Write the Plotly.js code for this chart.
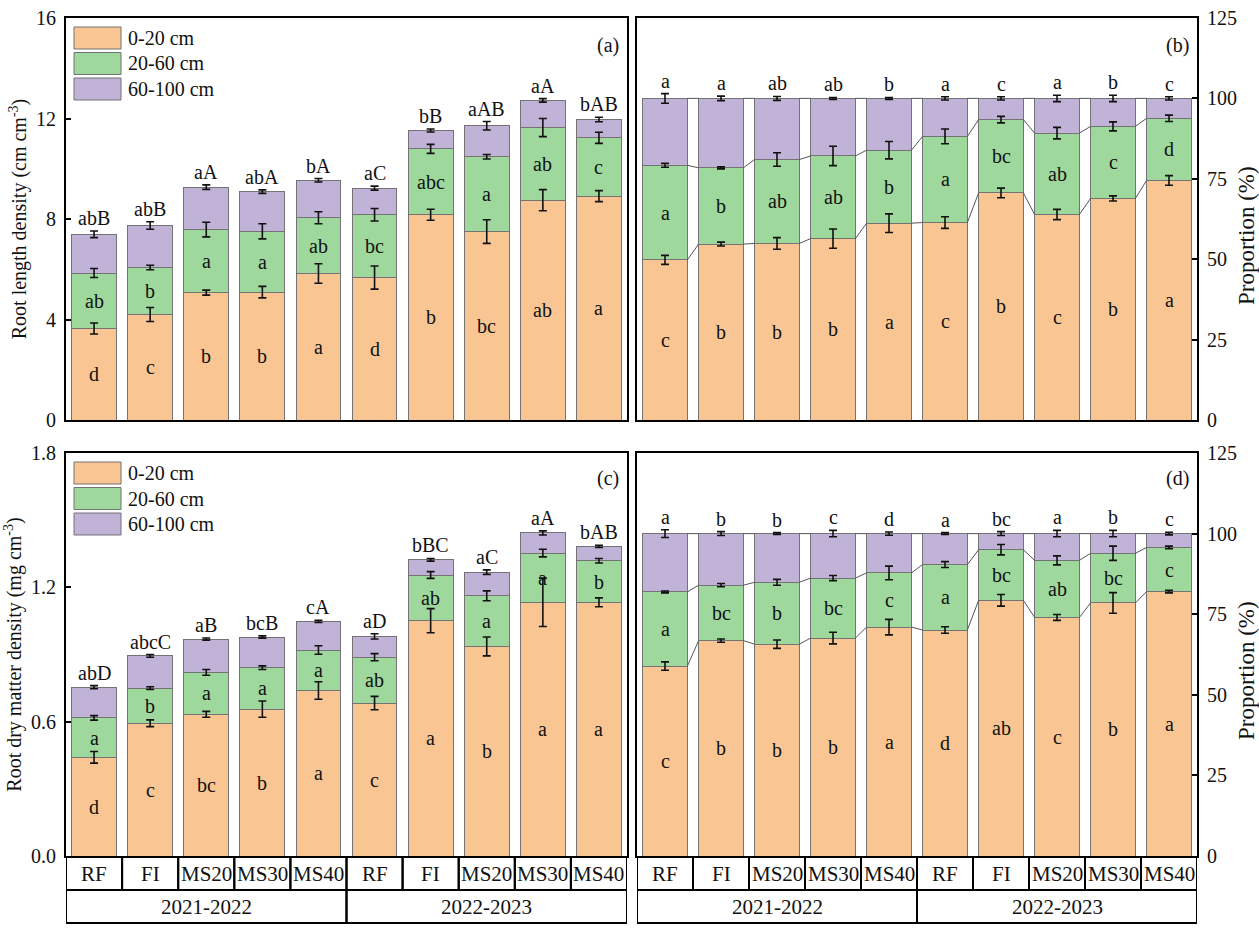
<!DOCTYPE html>
<html>
<head>
<meta charset="utf-8">
<script src="https://cdn.plot.ly/plotly-3.0.1.min.js"></script>
<style>
  html, body { margin: 0; padding: 0; background: #fff; }
  #chart { width: 1259px; height: 936px; }
</style>
</head>
<body>
<div id="chart"></div>
<script>
// ***** Data
const treatments = ['RF', 'FI', 'MS20', 'MS30', 'MS40', 'RF', 'FI', 'MS20', 'MS30', 'MS40'];
const seasons = ['2021-2022', '2022-2023'];
const layerNames = ['0-20 cm', '20-60 cm', '60-100 cm'];

// (a) root length density, cm cm-3, per soil layer
const rld020 = [3.64, 4.20, 5.07, 5.09, 5.83, 5.67, 8.17, 7.50, 8.75, 8.91];
const rld2060 = [2.21, 1.87, 2.51, 2.42, 2.22, 2.50, 2.62, 2.98, 2.89, 2.32];
const rld60100 = [1.54, 1.67, 1.69, 1.58, 1.49, 1.06, 0.73, 1.23, 1.08, 0.73];
const rldErr020 = [0.22, 0.28, 0.10, 0.23, 0.39, 0.46, 0.22, 0.47, 0.42, 0.22];
const rldErr2060 = [0.18, 0.09, 0.29, 0.30, 0.24, 0.25, 0.18, 0.09, 0.36, 0.22];
const rldErr60100 = [0.13, 0.15, 0.09, 0.07, 0.07, 0.08, 0.06, 0.17, 0.07, 0.09];
const rldLetters020 = ['d', 'c', 'b', 'b', 'a', 'd', 'b', 'bc', 'ab', 'a'];
const rldLetters2060 = ['ab', 'b', 'a', 'a', 'ab', 'bc', 'abc', 'a', 'ab', 'c'];
const rldLettersTotal = ['abB', 'abB', 'aA', 'abA', 'bA', 'aC', 'bB', 'aAB', 'aA', 'bAB'];

// (b) proportion of root length, %
const rlp020 = [49.8, 54.7, 54.9, 56.4, 61.2, 61.4, 70.6, 63.9, 68.9, 74.5];
const rlp2060 = [29.4, 23.7, 26.1, 25.7, 22.7, 26.8, 22.8, 25.3, 22.4, 19.3];
const rlp60100 = [20.8, 21.6, 19.0, 17.9, 16.1, 11.8, 6.6, 10.8, 8.7, 6.2];
const rlpErr020 = [1.4, 0.6, 1.8, 3.0, 2.9, 1.8, 1.5, 1.6, 0.8, 1.5];
const rlpErr2060 = [0.6, 0.3, 2.1, 3.0, 2.7, 2.3, 1.0, 1.8, 1.4, 1.0];
const rlpErr60100 = [1.5, 0.7, 0.6, 0.3, 0.3, 0.5, 0.5, 1.0, 1.0, 0.5];
const rlpLetters020 = ['c', 'b', 'b', 'b', 'a', 'c', 'b', 'c', 'b', 'a'];
const rlpLetters2060 = ['a', 'b', 'ab', 'ab', 'b', 'a', 'bc', 'ab', 'c', 'd'];
const rlpLetters60100 = ['a', 'a', 'ab', 'ab', 'b', 'a', 'c', 'a', 'b', 'c'];

// (c) root dry matter density, mg cm-3
const rdm020 = [0.441, 0.593, 0.633, 0.656, 0.739, 0.683, 1.051, 0.936, 1.133, 1.133];
const rdm2060 = [0.176, 0.157, 0.187, 0.185, 0.181, 0.205, 0.204, 0.226, 0.220, 0.186];
const rdm60100 = [0.137, 0.144, 0.149, 0.137, 0.128, 0.093, 0.068, 0.106, 0.090, 0.064];
const rdmErr020 = [0.026, 0.015, 0.013, 0.036, 0.039, 0.030, 0.054, 0.042, 0.108, 0.020];
const rdmErr2060 = [0.010, 0.006, 0.013, 0.008, 0.019, 0.016, 0.015, 0.022, 0.017, 0.010];
const rdmErr60100 = [0.007, 0.006, 0.005, 0.005, 0.005, 0.012, 0.006, 0.010, 0.009, 0.005];
const rdmLetters020 = ['d', 'c', 'bc', 'b', 'a', 'c', 'a', 'b', 'a', 'a'];
const rdmLetters2060 = ['a', 'b', 'a', 'a', 'a', 'ab', 'ab', 'a', 'a', 'b'];
const rdmLettersTotal = ['abD', 'abcC', 'aB', 'bcB', 'cA', 'aD', 'bBC', 'aC', 'aA', 'bAB'];

// (d) proportion of root dry matter, %
const rdp020 = [58.9, 66.8, 65.7, 67.6, 71.0, 70.1, 79.3, 74.0, 78.5, 82.0];
const rdp2060 = [23.0, 17.2, 19.2, 18.6, 16.8, 20.3, 15.7, 17.7, 15.4, 13.7];
const rdp60100 = [18.1, 16.0, 15.1, 13.8, 12.2, 9.6, 5.0, 8.3, 6.1, 4.3];
const rdpErr020 = [1.3, 0.5, 1.3, 1.8, 2.4, 1.0, 1.8, 0.9, 3.2, 0.4];
const rdpErr2060 = [0.3, 0.5, 0.9, 0.8, 2.1, 0.9, 1.6, 1.4, 2.2, 0.4];
const rdpErr60100 = [1.2, 0.6, 0.3, 1.0, 0.5, 0.3, 0.6, 1.0, 1.0, 0.4];
const rdpLetters020 = ['c', 'b', 'b', 'b', 'a', 'd', 'ab', 'c', 'b', 'a'];
const rdpLetters2060 = ['a', 'bc', 'b', 'bc', 'c', 'a', 'bc', 'ab', 'bc', 'c'];
const rdpLetters60100 = ['a', 'b', 'b', 'c', 'd', 'a', 'bc', 'a', 'b', 'c'];

// ***** Style
const colors = ['#F9C693', '#9ED89C', '#C1B3D8'];
const FONT = 'Liberation Serif, Times New Roman, serif';
const INK = '#111';
const W = 1259, H = 936;
const px = (v) => v / W;          // pixel -> paper x
const py = (v) => 1 - v / H;      // pixel -> paper y
const idx = treatments.map((t, i) => i);
const txt = (size) => ({family: FONT, size: size, color: INK});

// ***** Builders
const stackTraces = (layers, xa, ya) => layers.map((vals, k) => ({
    type: 'bar', x: idx, y: vals, xaxis: xa, yaxis: ya, width: 0.8,
    name: layerNames[k], showlegend: false, hoverinfo: 'skip',
    marker: {color: colors[k], line: {color: '#737373', width: 1}}
}));

const cumulative = (layers) => {
    const tops = [];
    let run = idx.map(() => 0);
    layers.forEach(vals => {
        run = run.map((r, i) => r + vals[i]);
        tops.push(run.slice());
    });
    return tops;
};

// error bars sit on top of every bar so the next segment does not hide them
const errorTraces = (layers, errs, xa, ya) => cumulative(layers).map((top, k) => ({
    type: 'scatter', mode: 'markers', x: idx, y: top, xaxis: xa, yaxis: ya,
    marker: {size: 1, color: 'rgba(0,0,0,0)'}, showlegend: false, hoverinfo: 'skip',
    error_y: {type: 'data', array: errs[k], color: INK, thickness: 1.6, width: 4}
}));

// thin lines joining segment tops of neighbouring bars
const connectors = (layers, xa, ya) => cumulative(layers).map(top => {
    const x = [], y = [];
    for (let i = 0; i < idx.length - 1; i++) {
        x.push(i + 0.4, i + 0.6, null);
        y.push(top[i], top[i + 1], null);
    }
    return {type: 'scatter', mode: 'lines', x, y, xaxis: xa, yaxis: ya,
        line: {color: '#555', width: 1}, showlegend: false, hoverinfo: 'skip'};
});

const letterNotes = (layers, errs, inner, topLetters, xr, yr) => {
    const notes = [];
    const tops = cumulative(layers);
    inner.forEach((letters, k) => {
        letters.forEach((s, i) => {
            const base = k === 0 ? 0 : tops[k - 1][i];
            notes.push({xref: xr, yref: yr, x: i, y: base + layers[k][i] / 2, text: s,
                xanchor: 'center', yanchor: 'middle', showarrow: false, font: txt(20)});
        });
    });
    const last = layers.length - 1;
    topLetters.forEach((s, i) => {
        notes.push({xref: xr, yref: yr, x: i, y: tops[last][i] + errs[last][i], text: s,
            xanchor: 'center', yanchor: 'bottom', showarrow: false, font: txt(20)});
    });
    return notes;
};

const paperNote = (s, x, y, size, extra) => Object.assign({xref: 'paper', yref: 'paper',
    x: px(x), y: py(y), text: s, xanchor: 'center', yanchor: 'middle',
    showarrow: false, font: txt(size)}, extra || {});

const legendBlock = (top) => {
    const shapes = [], notes = [];
    layerNames.forEach((n, k) => {
        const y0 = top + k * 25.5;
        shapes.push({type: 'rect', xref: 'paper', yref: 'paper', x0: px(74), x1: px(121),
            y0: py(y0), y1: py(y0 + 22), fillcolor: colors[k], line: {color: '#737373', width: 1}});
        notes.push(paperNote(n, 126, y0 + 11, 20, {xanchor: 'left'}));
    });
    return {shapes, notes};
};

// treatment / season boxes under the lower panels
const tableBlock = (xr) => {
    const shapes = [], notes = [];
    const lineStyle = {color: '#000', width: 2};
    const cell = (s, x, y) => ({xref: xr, yref: 'paper', x: x, y: py(y), text: s,
        xanchor: 'center', yanchor: 'middle', showarrow: false, font: txt(21)});
    treatments.forEach((t, i) => {
        shapes.push({type: 'rect', xref: xr, yref: 'paper', x0: i - 0.5, x1: i + 0.5,
            y0: py(890), y1: py(857), line: lineStyle});
        notes.push(cell(t, i, 874));
    });
    seasons.forEach((s, j) => {
        const x0 = j * 5 - 0.5;
        shapes.push({type: 'rect', xref: xr, yref: 'paper', x0: x0, x1: x0 + 5,
            y0: py(923), y1: py(890), line: lineStyle});
        notes.push(cell(s, x0 + 2.5, 907));
    });
    return {shapes, notes};
};

// ***** Axes
const frame = {showline: true, mirror: true, linecolor: '#000', linewidth: 2,
    zeroline: false, showgrid: false};
const xAxis = (dom, anchor) => Object.assign({}, frame, {domain: dom, anchor: anchor,
    range: [-0.5, 9.5], showticklabels: false, ticks: '', tickfont: txt(20)});
const yAxis = (dom, anchor, range, dtick, side, fmt, title) => Object.assign({}, frame, {
    domain: dom, anchor: anchor, range: range, tick0: 0, dtick: dtick, side: side,
    ticks: 'inside', ticklen: 5, tickwidth: 2, tickcolor: '#000', tickformat: fmt,
    tickfont: txt(20), ticklabelstandoff: 4,
    title: title ? {text: title, font: txt(20), standoff: 4} : undefined
});

const colL = [px(66), px(627)], colR = [px(637), px(1197)];
const rowT = [py(420), py(18)], rowB = [py(856), py(453)];

// ***** Assemble
const layersA = [rld020, rld2060, rld60100], errsA = [rldErr020, rldErr2060, rldErr60100];
const layersB = [rlp020, rlp2060, rlp60100], errsB = [rlpErr020, rlpErr2060, rlpErr60100];
const layersC = [rdm020, rdm2060, rdm60100], errsC = [rdmErr020, rdmErr2060, rdmErr60100];
const layersD = [rdp020, rdp2060, rdp60100], errsD = [rdpErr020, rdpErr2060, rdpErr60100];

const data = [].concat(
    stackTraces(layersA, 'x', 'y'),
    stackTraces(layersB, 'x2', 'y2'),
    stackTraces(layersC, 'x3', 'y3'),
    stackTraces(layersD, 'x4', 'y4'),
    connectors(layersB, 'x2', 'y2'), connectors(layersD, 'x4', 'y4'),
    errorTraces(layersA, errsA, 'x', 'y'), errorTraces(layersB, errsB, 'x2', 'y2'),
    errorTraces(layersC, errsC, 'x3', 'y3'), errorTraces(layersD, errsD, 'x4', 'y4')
);

const legA = legendBlock(27), legC = legendBlock(462);
const tabC = tableBlock('x3'), tabD = tableBlock('x4');

const annotations = [].concat(
    letterNotes(layersA, errsA, [rldLetters020, rldLetters2060], rldLettersTotal, 'x', 'y'),
    letterNotes(layersB, errsB, [rlpLetters020, rlpLetters2060], rlpLetters60100, 'x2', 'y2'),
    letterNotes(layersC, errsC, [rdmLetters020, rdmLetters2060], rdmLettersTotal, 'x3', 'y3'),
    letterNotes(layersD, errsD, [rdpLetters020, rdpLetters2060], rdpLetters60100, 'x4', 'y4'),
    legA.notes, legC.notes, tabC.notes, tabD.notes,
    [paperNote('(a)', 621, 45, 20, {xanchor: 'right'}),
     paperNote('(b)', 1191, 45, 20, {xanchor: 'right'}),
     paperNote('(c)', 621, 479, 20, {xanchor: 'right'}),
     paperNote('(d)', 1191, 479, 20, {xanchor: 'right'}),
     paperNote('Proportion (%)', 1246, 236, 23, {textangle: -90}),
     paperNote('Proportion (%)', 1246, 671, 23, {textangle: -90})]
);

const layout = {
    width: W, height: H, margin: {l: 0, r: 0, t: 0, b: 0},
    paper_bgcolor: '#fff', plot_bgcolor: '#fff',
    barmode: 'stack', showlegend: false,
    font: txt(20),
    xaxis: xAxis(colL, 'y'),
    yaxis: yAxis(rowT, 'x', [0, 16], 4, 'left', '', 'Root length density (cm cm<sup>-3</sup>)'),
    xaxis2: xAxis(colR, 'y2'),
    yaxis2: yAxis(rowT, 'x2', [0, 125], 25, 'right', ''),
    xaxis3: xAxis(colL, 'y3'),
    yaxis3: yAxis(rowB, 'x3', [0, 1.8], 0.6, 'left', '.1f', 'Root dry matter density (mg cm<sup>-3</sup>)'),
    xaxis4: xAxis(colR, 'y4'),
    yaxis4: yAxis(rowB, 'x4', [0, 125], 25, 'right', ''),
    shapes: [].concat(legA.shapes, legC.shapes, tabC.shapes, tabD.shapes),
    annotations: annotations
};

Plotly.newPlot('chart', data, layout, {staticPlot: true}).then(() => {
    // drop placeholder <text> nodes that render with no box (untitled axes)
    document.querySelectorAll('#chart text').forEach(t => {
        const b = t.getBBox();
        if (!t.textContent.trim() || b.width === 0 || b.height === 0) t.remove();
    });
});
</script>
</body>
</html>
